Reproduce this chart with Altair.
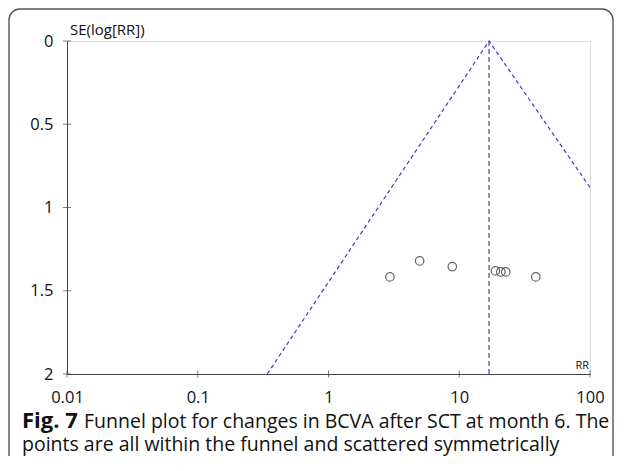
import altair as alt
import pandas as pd

# Study points
rr = [2.95, 4.98, 8.85, 18.9, 20.8, 22.7, 38.5]
se = [1.417, 1.321, 1.355, 1.381, 1.387, 1.387, 1.417]

# Funnel (pooled estimate and 95% limits)
pooled_rr = 16.9
funnel_rr = [0.34, 16.9, 100]
funnel_se = [2.0, 0.0, 0.88]
pooled_line_se = [0.0, 2.0]

x_ticks = [0.01, 0.1, 1, 10, 100]
y_ticks = [0, 0.5, 1, 1.5, 2]

caption_bold = "Fig. 7"
caption_line1 = "Funnel plot for changes in BCVA after SCT at month 6. The"
caption_line2 = "points are all within the funnel and scattered symmetrically"
y_title = "SE(log[RR])"
x_title = "RR"

FONT = "Open Sans"
BLUE = "#3c3cd2"
AXIS = "#444444"

W, H = 523, 333

xs = alt.Scale(type="log", domain=[0.01, 100])
ys = alt.Scale(domain=[0, 2], reverse=True)

pts = pd.DataFrame({"rr": rr, "se": se})
funnel = pd.DataFrame({"rr": funnel_rr, "se": funnel_se, "o": [0, 1, 2]})
pooled = pd.DataFrame({"rr": [pooled_rr] * 2, "se": pooled_line_se})
xt = pd.DataFrame({"rr": x_ticks})
yt = pd.DataFrame({"se": y_ticks})
one = pd.DataFrame({"a": [0]})

box = alt.Chart(one).mark_rect(
    fill="white", fillOpacity=0, stroke="#555555", strokeWidth=1.4, cornerRadius=11
).encode(
    x=alt.value(-58), x2=alt.value(546), y=alt.value(-32), y2=alt.value(432)
)

axes = alt.Chart(pts).mark_point(opacity=0).encode(
    x=alt.X("rr:Q", scale=xs, axis=alt.Axis(
        values=x_ticks, format="~g", title=None, ticks=False, grid=False, zindex=1,
        domainColor=AXIS, labelFont=FONT, labelFontSize=16.5, labelColor="#111",
        labelPadding=15, labelFlush=False, labelOverlap=False)),
    y=alt.Y("se:Q", scale=ys, axis=alt.Axis(
        values=y_ticks, format="~g", title=None, ticks=False, grid=False, zindex=1,
        domainColor=AXIS, labelFont=FONT, labelFontSize=16.5, labelColor="#111",
        labelPadding=14, labelFlush=False, labelOverlap=False)),
)

xtick = alt.Chart(xt).mark_tick(color=AXIS, size=7, thickness=1).encode(
    x=alt.X("rr:Q", scale=xs), y=alt.value(H)
)
ytick = alt.Chart(yt).mark_tick(color=AXIS, size=8, thickness=1).encode(
    y=alt.Y("se:Q", scale=ys), x=alt.value(0)
)

funnel_line = alt.Chart(funnel).mark_line(
    color=BLUE, strokeWidth=1.2, strokeDash=[4, 3]
).encode(x=alt.X("rr:Q", scale=xs), y=alt.Y("se:Q", scale=ys), order="o:Q")

pooled_line = alt.Chart(pooled).mark_line(
    color=BLUE, strokeWidth=1.2, strokeDash=[5, 3]
).encode(x=alt.X("rr:Q", scale=xs), y=alt.Y("se:Q", scale=ys))

points = alt.Chart(pts).mark_point(
    shape="circle", filled=False, color="#222222", size=72, strokeWidth=1.2
).encode(x=alt.X("rr:Q", scale=xs), y=alt.Y("se:Q", scale=ys))

ylab = alt.Chart(one).mark_text(
    text=y_title, font=FONT, fontSize=15, align="left", baseline="alphabetic", color="#111"
).encode(x=alt.value(3), y=alt.value(-6))

xlab = alt.Chart(one).mark_text(
    text=x_title, font=FONT, fontSize=11, align="right", baseline="alphabetic", color="#111"
).encode(x=alt.value(522), y=alt.value(328))

cap_b = alt.Chart(one).mark_text(
    text=caption_bold, font=FONT, fontSize=22, fontWeight="bold", align="left",
    baseline="alphabetic", color="#111"
).encode(x=alt.value(-45), y=alt.value(387))

cap_1 = alt.Chart(one).mark_text(
    text=caption_line1, font=FONT, fontSize=19.5, align="left",
    baseline="alphabetic", color="#111"
).encode(x=alt.value(17), y=alt.value(387))

cap_2 = alt.Chart(one).mark_text(
    text=caption_line2, font=FONT, fontSize=19.5, align="left",
    baseline="alphabetic", color="#111"
).encode(x=alt.value(-45), y=alt.value(410))

chart = alt.layer(
    box, axes, xtick, ytick, funnel_line, pooled_line, points, ylab, xlab, cap_b, cap_1, cap_2
).properties(
    width=W, height=H,
    autosize=alt.AutoSizeParams(type="none"),
    padding={"left": 59, "top": 33, "right": 24, "bottom": 82},
).configure_view(stroke=None).configure(background="white")

chart.save("out.html", embed_options={"renderer": "svg", "actions": False})
